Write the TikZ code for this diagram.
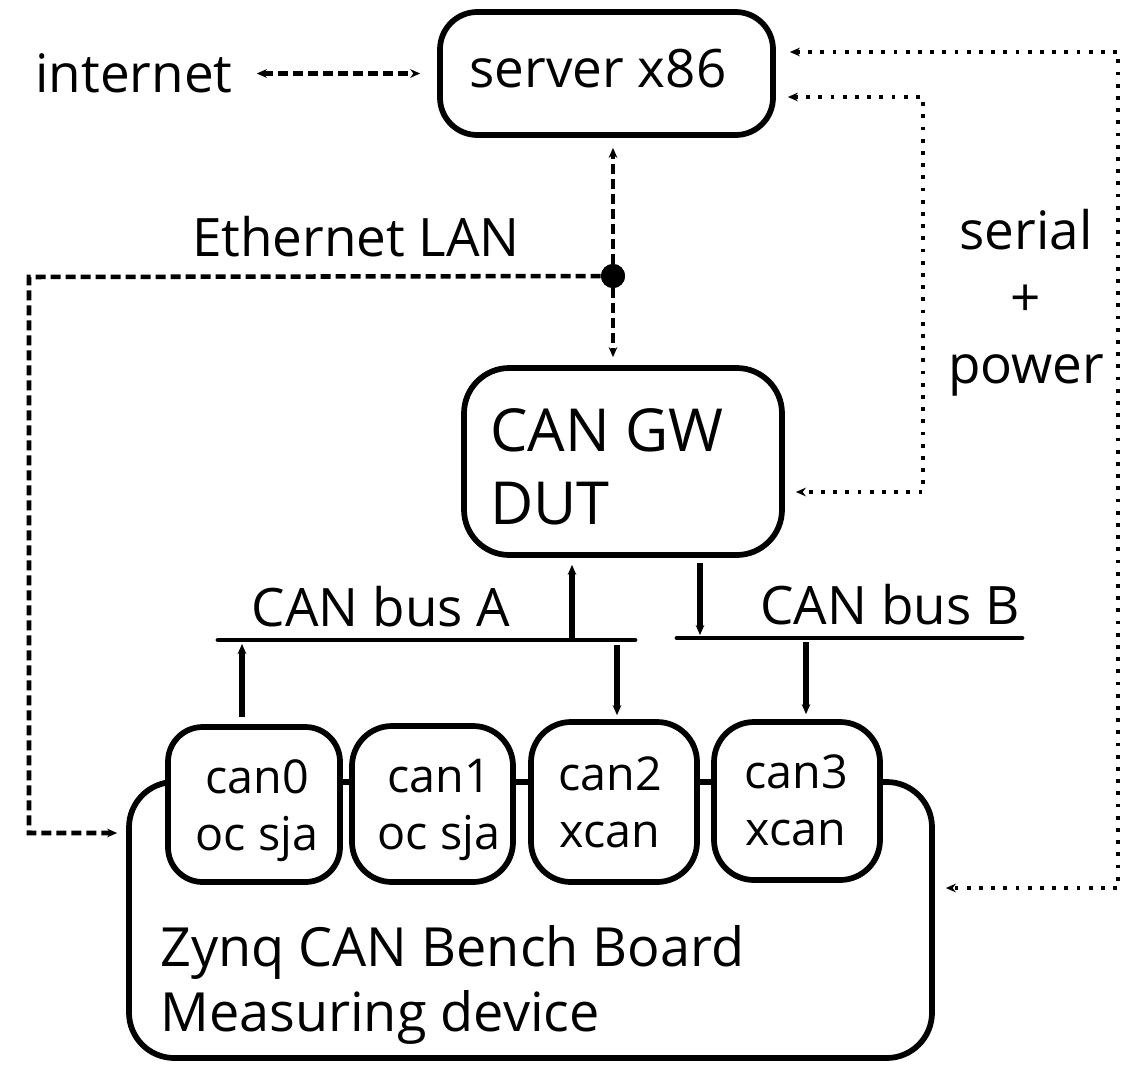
\documentclass[tikz,border=0pt]{standalone}
\usepackage{fontspec}
\setmainfont{Open Sans}
\usetikzlibrary{arrows.meta,fit}

\begin{document}
\begin{tikzpicture}[x=0.75pt,y=-0.75pt,
  box/.style={draw,line width=4.3pt,fill=white,inner sep=0pt},
  txt/.style={inner sep=0pt},
  fbig/.style={font=\fontsize{39.75}{50.25}\selectfont},
  fdut/.style={font=\fontsize{44.5}{54.75}\selectfont},
  fcan/.style={font=\fontsize{35}{42.75}\selectfont},
  fzynq/.style={font=\fontsize{40.5}{48.75}\selectfont},
  dashlink/.style={line width=3.4pt,dash pattern=on 7.5pt off 3.75pt},
  dotlink/.style={line width=2.9pt,dash pattern=on 2.9pt off 6.25pt},
  bus/.style={line width=3.6pt,line cap=round},
  sig/.style={line width=4.2pt},
  hubdot/.style={circle,fill=black,inner sep=0pt,minimum size=18pt},
  >={Stealth[length=7.5pt,width=6.5pt]}
]
\useasboundingbox (0,0) rectangle (1127,1067);

% measuring board with its four CAN controllers on the top edge
\node[box,rounded corners=34pt,fit={(129,782) (932,1058)}] (board) {};
\node[box,rounded corners=26pt,fit={(168,727) (340,882)}] (can0) {};
\node[box,rounded corners=30pt,fit={(352,726) (513,882)}] (can1) {};
\node[box,rounded corners=30pt,fit={(531,722) (697,882)}] (can2) {};
\node[box,rounded corners=30pt,fit={(714,722) (880,880)}] (can3) {};
\node[txt,fcan,align=center,anchor=north] (can0txt) at (257,759) {can0\\oc sja};
\node[txt,fcan,align=center,anchor=north] (can1txt) at (439,759) {can1\\oc sja};
\node[txt,fcan,align=center,anchor=north] (can2txt) at (610,756) {can2\\xcan};
\node[txt,fcan,align=center,anchor=north] (can3txt) at (796,754) {can3\\xcan};
\node[txt,fzynq,align=left,anchor=north west] (boardtxt) at (160,925)
  {Zynq CAN Bench Board\\Measuring device};

% server and device under test
\node[box,rounded corners=28pt,fit={(440,12) (773,135)}] (server) {};
\node[txt,fbig,anchor=base] (servertxt) at (598,87) {server x86};
\node[box,rounded corners=34pt,fit={(464,368) (782,555)}] (dut) {};
\node[txt,fdut,align=left,anchor=north west] (duttxt) at (490,408) {CAN GW\\DUT};

% free labels
\node[txt,fbig,anchor=base] (internet) at (134,92) {internet};
\node[txt,fbig,anchor=base] (lan) at (356,256) {Ethernet LAN};
\node[txt,fbig,anchor=base] (busAtxt) at (381,626) {CAN bus A};
\node[txt,fbig,anchor=base] (busBtxt) at (890,624) {CAN bus B};
\node[txt,fbig,align=center,anchor=north] (serial) at (1026,209) {serial\\+\\power};

% Ethernet LAN
\node[hubdot] (hub) at (613,276) {};
\draw[dashlink,<->,shorten <=18pt,shorten >=12.75pt]
  (internet.east |- server.west) -- (server.west);
\draw[dashlink,->,shorten >=7.5pt] (hub) -- (hub |- server.south);
\draw[dashlink,->,shorten >=6pt] (hub) -- (hub |- dut.north);
\coordinate (lanNW) at (29,277);
\coordinate (lanSW) at (29,833);
\draw[dashlink,->,shorten >=6.75pt] (hub) -- (lanNW) -- (lanSW) -- (board.west |- lanSW);
\node[hubdot] at (hub) {};

% serial + power lines
\coordinate (pwrNE) at (1118,52);
\coordinate (pwrSE) at (1118,888);
\coordinate (serNE) at (923,97);
\coordinate (serSE) at (923,492);
\draw[dotlink,<->,shorten <=10.5pt,shorten >=8.25pt]
  (server.east |- pwrNE) -- (pwrNE) -- (pwrSE) -- (board.east |- pwrSE);
\draw[dotlink,<->,shorten <=9pt,shorten >=8.25pt]
  (server.east |- serNE) -- (serNE) -- (serSE) -- (dut.east |- serSE);

% CAN bus A
\coordinate (busAw) at (218,640);
\coordinate (busAe) at (635,640);
\coordinate (tapA0) at (242,640);
\coordinate (tapA1) at (572,640);
\coordinate (tapA2) at (617,640);
\draw[bus] (busAw) -- (busAe);
\draw[sig,->,shorten >=5.25pt] (tapA1) -- (tapA1 |- dut.south);
\draw[sig,->,shorten <=3.75pt,shorten >=3pt] (tapA2) -- (tapA2 |- can2.north);
\draw[sig,->,shorten <=5.25pt,shorten >=3pt] (tapA0 |- can0.north) -- (tapA0);

% CAN bus B
\coordinate (busBw) at (677,638);
\coordinate (busBe) at (1022,638);
\coordinate (tapB1) at (700,638);
\coordinate (tapB2) at (806,638);
\draw[bus] (busBw) -- (busBe);
\draw[sig,->,shorten <=3.75pt,shorten >=2.25pt] (tapB1 |- dut.south) -- (tapB1);
\draw[sig,->,shorten <=3pt,shorten >=3.75pt] (tapB2) -- (tapB2 |- can3.north);
\end{tikzpicture}
\end{document}
